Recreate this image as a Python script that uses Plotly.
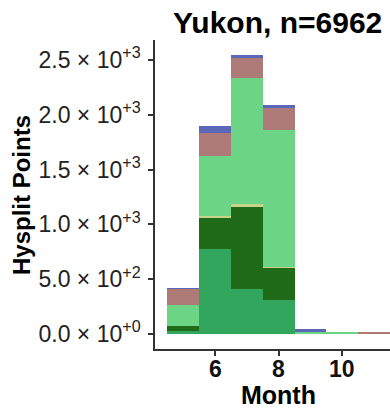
import plotly.graph_objects as go

months = [5, 6, 7, 8, 9, 10, 11]
medium_green = [27, 773, 408, 310, 0, 0, 0]
dark_green = [46, 283, 748, 298, 0, 0, 0]
khaki = [3, 21, 27, 3, 0, 0, 0]
light_green = [192, 547, 1150, 1253, 15, 12, 0]
mauve = [143, 213, 182, 200, 0, 0, 12]
blue = [4, 58, 27, 25, 28, 0, 0]

series = [
    ("Source 1", medium_green, "#33A65E"),
    ("Source 2", dark_green, "#1F6B1A"),
    ("Source 3", khaki, "#C6D38A"),
    ("Source 4", light_green, "#6BD585"),
    ("Source 5", mauve, "#AD7A78"),
    ("Source 6", blue, "#5B67B8"),
]

ytick_vals = [0, 500, 1000, 1500, 2000, 2500]
ytick_text = ["0.0 × 10<sup>+0</sup>", "5.0 × 10<sup>+2</sup>", "1.0 × 10<sup>+3</sup>",
              "1.5 × 10<sup>+3</sup>", "2.0 × 10<sup>+3</sup>", "2.5 × 10<sup>+3</sup>"]
xtick_vals = [6, 8, 10]
xtick_text = ["6", "8", "10"]

W, H = 390, 410
fig = go.Figure()
for name, vals, col in series:
    fig.add_trace(go.Bar(x=months, y=vals, name=name, marker_color=col,
                         marker_line_width=0, width=1, showlegend=False))

FONT = "Liberation Sans, Arial, sans-serif"
fig.update_layout(
    width=W, height=H, barmode="stack", bargap=0,
    margin=dict(l=0, r=0, t=0, b=0),
    plot_bgcolor="white", paper_bgcolor="white",
    font=dict(family=FONT, color="#222"),
    xaxis=dict(domain=[155 / W, 1], range=[4.116, 11.494], tickvals=xtick_vals,
               ticks="outside", ticklen=5, tickwidth=2, tickcolor="#333",
               showline=True, linecolor="#333", linewidth=1.5,
               showgrid=False, zeroline=False, automargin=False,
               showticklabels=False),
    yaxis=dict(domain=[(H - 349.3) / H, (H - 40) / H], range=[-139.6, 2682.5],
               tickvals=ytick_vals, ticktext=ytick_text,
               ticks="outside", ticklen=5, tickwidth=2, tickcolor="#333",
               showline=True, linecolor="#333", linewidth=1.5,
               showgrid=False, zeroline=False, automargin=False,
               ticklabelstandoff=3,
               tickfont=dict(size=23, family=FONT, color="#222")),
)

for v, t in zip(xtick_vals, xtick_text):
    fig.add_annotation(text="<b>%s</b>" % t, xref="x", yref="paper",
                       x=v, y=(H - 369) / H, xanchor="center", yanchor="middle",
                       showarrow=False, font=dict(size=23, family=FONT, color="#111"))

fig.add_annotation(text="<b>Yukon, n=6962</b>", xref="paper", yref="paper",
                   x=277 / W, y=(H - 22) / H, xanchor="center", yanchor="middle",
                   showarrow=False, font=dict(size=30, family=FONT, color="#000"))
fig.add_annotation(text="<b>Month</b>", xref="paper", yref="paper",
                   x=278 / W, y=(H - 395) / H, xanchor="center", yanchor="middle",
                   showarrow=False, font=dict(size=25, family=FONT, color="#000"))
fig.add_annotation(text="<b>Hysplit Points</b>", xref="paper", yref="paper",
                   x=21 / W, y=(H - 195) / H, xanchor="center", yanchor="middle",
                   textangle=-90, showarrow=False,
                   font=dict(size=24, family=FONT, color="#000"))

fig.write_html("out.html")
